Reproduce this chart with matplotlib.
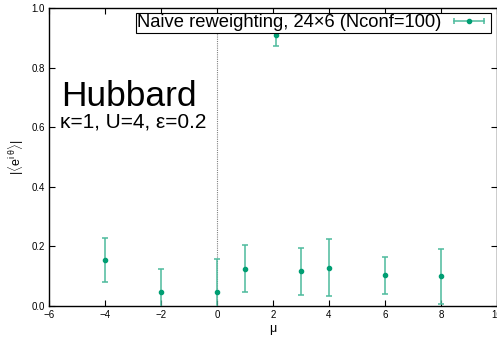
import numpy as np
import matplotlib
matplotlib.use("Agg")
import matplotlib.pyplot as plt
from matplotlib.lines import Line2D
from matplotlib.legend_handler import HandlerLine2D, HandlerTuple

# data
mu = [-4, -2, 0, 1, 2.1, 3, 4, 6, 8]
phase = [0.155, 0.046, 0.048, 0.125, 0.909, 0.117, 0.128, 0.103, 0.100]
err = [0.074, 0.077, 0.109, 0.079, 0.036, 0.079, 0.096, 0.063, 0.092]

label = "Naive reweighting, 24\u00d76 (Nconf=100)"
green = "#009e73"

plt.rcParams['font.family'] = ['Liberation Sans', 'DejaVu Sans']
plt.rcParams['mathtext.fontset'] = 'custom'
plt.rcParams['mathtext.rm'] = 'Liberation Sans'
plt.rcParams['mathtext.it'] = 'Liberation Sans'

fig = plt.figure(figsize=(4.97, 3.43), dpi=100)
ax = fig.add_axes([49 / 497, 37 / 343, 448 / 497, 298 / 343])

ax.axvline(0, color="gray", lw=0.8, ls=(0, (1, 1)), zorder=1)
eb = ax.errorbar(mu, phase, yerr=err, fmt="o", ms=3, color=green, ecolor="#4dbb9d",
                 elinewidth=1.1, capsize=2.5, capthick=1.1, zorder=3)

ax.set_xlim(-6, 10)
ax.set_ylim(0, 1)
ax.set_xticks(np.arange(-6, 11, 2))
ax.set_yticks(np.arange(0, 1.01, 0.2))
ax.set_yticklabels(["0.0", "0.2", "0.4", "0.6", "0.8", "1.0"])
ax.tick_params(direction="in", top=True, right=True, labelsize=7, length=4, width=0.8, pad=3)
for s in ax.spines.values():
    s.set_linewidth(1)

ax.set_xlabel("\u03bc", fontsize=9, labelpad=2)
ax.set_ylabel(r"$|\langle\mathrm{e}^{i\;\theta}\rangle|$", fontsize=9, labelpad=4)

ax.text(-5.55, 0.672, "Hubbard", fontsize=25.5, va="baseline")
ax.text(-5.62, 0.598, "\u03ba=1, U=4, \u03b5=0.2", fontsize=15, va="baseline")

# gnuplot-style key sample: horizontal bar with caps and a dot
bar = Line2D([], [], color="#4dbb9d", lw=1.1, marker="|", ms=5, mew=1.1)
dot = Line2D([], [], color=green, lw=0, marker="o", ms=3)
leg = ax.legend([(bar, dot)], [label], loc="upper right",
                handler_map={bar: HandlerLine2D(numpoints=2), dot: HandlerLine2D(numpoints=1),
                             tuple: HandlerTuple(ndivide=1)},
                bbox_to_anchor=(0.99, 0.99), fontsize=13.2,
                frameon=True, fancybox=False, edgecolor="black", framealpha=1,
                markerfirst=False, handlelength=2.2, borderpad=0.08,
                handletextpad=0.4, borderaxespad=0.1)
leg.get_frame().set_linewidth(0.8)

fig.savefig("out.png", dpi=100)
